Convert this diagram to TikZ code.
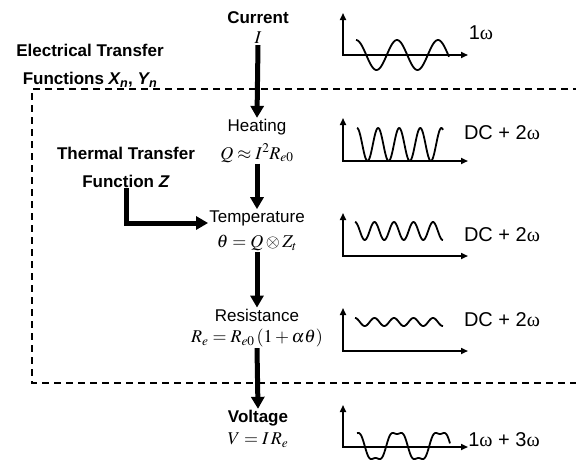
\documentclass[tikz,border=0pt]{standalone}
\usepackage{mathptmx}
\usepackage[no-math]{fontspec}
\setmainfont{Liberation Sans}
\newfontfamily\omegafont{Liberation Serif}
\newcommand{\wfreq}{{\omegafont ω}}
\usetikzlibrary{arrows.meta}

\begin{document}
\begin{tikzpicture}[
    x=1pt, y=-1pt,
    every node/.style={font=\fontsize{17}{28}\selectfont},
    heading/.style={font=\fontsize{17}{28}\selectfont\bfseries, align=center, inner sep=1pt},
    stage/.style={inner sep=1pt},
    formula/.style={inner sep=1pt, font=\fontsize{18}{20}\selectfont},
    freq/.style={inner sep=1pt, font=\fontsize{20}{24}\selectfont},
    flow/.style={line width=5pt, -{Triangle[length=12pt, width=13pt]}},
    plotaxes/.style={line width=1.6pt, {Triangle[length=7pt, width=6pt]}-{Triangle[length=7pt, width=6pt]}},
    wave/.style={line width=1.8pt},
    boxframe/.style={line width=1.8pt, dash pattern=on 7pt off 5pt}
]
\useasboundingbox (0,0) rectangle (576,464);

% Dashed region
\draw[boxframe] (580,89) -- (32,89) -- (32,383) -- (580,383);

% Nodes
\node (cur) [heading] at (258,18) {Current};
\node (curI) [formula] at (258,38) {$I$};
\node (heat) [stage] at (257,127) {Heating};
\node (heatQ) [formula] at (257,153) {$Q \approx I^2 R_{e0}$};
\node (temp) [stage] at (257,218) {Temperature};
\node (tempT) [formula] at (257,243) {$\theta = Q \otimes Z_t$};
\node (res) [stage] at (257,315) {Resistance};
\node (resR) [formula] at (257,338) {$R_e = R_{e0}\left(1+\alpha\theta\right)$};
\node (volt) [heading] at (258,418) {Voltage};
\node (voltV) [formula] at (258,440) {$V = I\,R_e$};

\node (elec) [heading] at (90,66) {Electrical Transfer\\Functions \textit{X\textsubscript{n}}, \textit{Y\textsubscript{n}}};
\node (therm) [heading] at (126,167) {Thermal Transfer\\Function \textit{Z}};

% Connections
\draw [flow] (curI.south) -- (heat.north);
\draw [flow] (heatQ.south) -- (temp.north);
\draw [flow] (tempT.south) -- (res.north);
\draw [flow] (resR.south) -- (volt.north);
\draw [flow] (therm.south) |- ([yshift=-5pt]temp.west);

% Signal sketches
\foreach \top/\base in {13/55, 118/161, 213/256, 308/351, 405/447}
  \draw [plotaxes] (343,\top) |- (468,\base);

\draw [wave] plot[domain=356:449, samples=100] (\x, {55-15*cos(360/41*(\x-397))});
\draw [wave] plot[domain=357:443, samples=140] (\x, {161-33*(0.5+0.5*cos(360/21.1*(\x-357)))});
\draw [wave] plot[domain=355:443, samples=120] (\x, {231-9*cos(360/19.5*(\x-355))});
\draw [wave] plot[domain=355:443, samples=120] (\x, {322-4*cos(360/19.5*(\x-355))});
\draw [wave] plot[domain=357:450, samples=140] (\x, {446-15*(sin(360/43*(\x-386.25))+0.2*sin(1080/43*(\x-386.25)))});

\node (w1) [freq] at (481,33) {1\wfreq};
\node (w2) [freq] at (502,133) {DC + 2\wfreq};
\node (w3) [freq] at (502,235) {DC + 2\wfreq};
\node (w4) [freq] at (502,320) {DC + 2\wfreq};
\node (w5) [freq] at (504,440) {1\wfreq{} + 3\wfreq};

\end{tikzpicture}
\end{document}
